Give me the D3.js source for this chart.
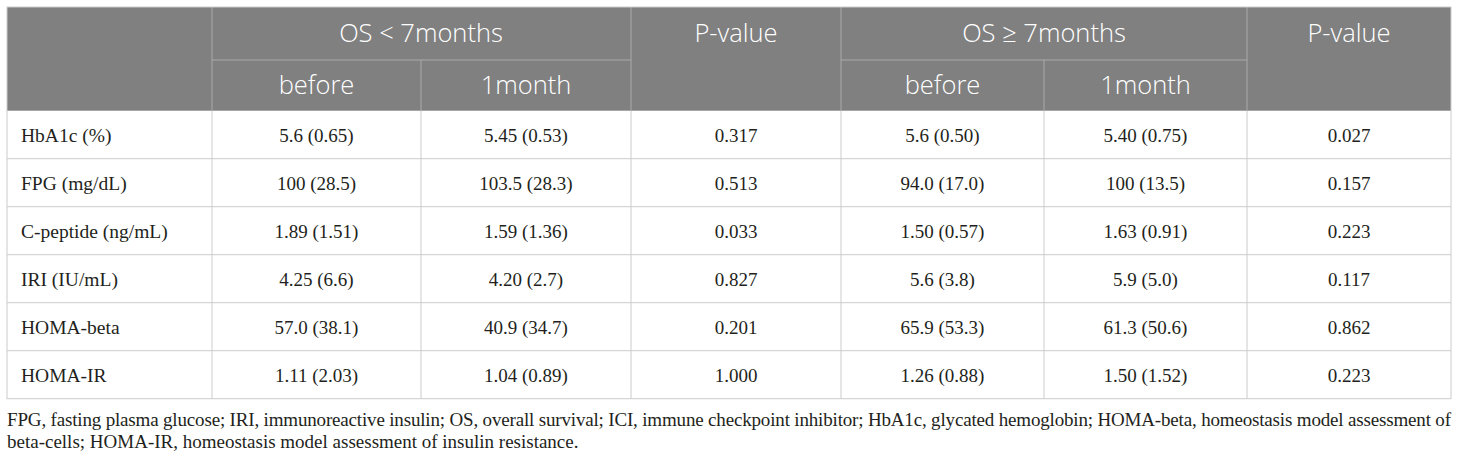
<!DOCTYPE html>
<html>
<head>
<meta charset="utf-8">
<script src="https://cdn.jsdelivr.net/npm/d3@7"></script>
<style>
  body { margin: 0; background: #fff; }
</style>
</head>
<body>
<svg id="table" width="1460" height="460"></svg>
<script>
const svg = d3.select("#table");

// table content
const groupLabels = ["OS < 7months", "OS \u2265 7months"];
const periodLabels = ["before", "1month"];
const pLabel = "P-value";
const rowLabels = ["HbA1c (%)", "FPG (mg/dL)", "C-peptide (ng/mL)", "IRI (IU/mL)", "HOMA-beta", "HOMA-IR"];
const shortBefore = ["5.6 (0.65)", "100 (28.5)", "1.89 (1.51)", "4.25 (6.6)", "57.0 (38.1)", "1.11 (2.03)"];
const shortMonth = ["5.45 (0.53)", "103.5 (28.3)", "1.59 (1.36)", "4.20 (2.7)", "40.9 (34.7)", "1.04 (0.89)"];
const shortP = ["0.317", "0.513", "0.033", "0.827", "0.201", "1.000"];
const longBefore = ["5.6 (0.50)", "94.0 (17.0)", "1.50 (0.57)", "5.6 (3.8)", "65.9 (53.3)", "1.26 (0.88)"];
const longMonth = ["5.40 (0.75)", "100 (13.5)", "1.63 (0.91)", "5.9 (5.0)", "61.3 (50.6)", "1.50 (1.52)"];
const longP = ["0.027", "0.157", "0.223", "0.117", "0.862", "0.223"];
const footnote = [
  "FPG, fasting plasma glucose; IRI, immunoreactive insulin; OS, overall survival; ICI, immune checkpoint inhibitor; HbA1c, glycated hemoglobin; HOMA-beta, homeostasis model assessment of",
  "beta-cells; HOMA-IR, homeostasis model assessment of insulin resistance."
];

const columns = ["label", "sb", "s1", "sp", "lb", "l1", "lp"];
const colWeights = [205, 209, 210, 210, 203, 203, 204];
const colValues = { sb: shortBefore, s1: shortMonth, sp: shortP, lb: longBefore, l1: longMonth, lp: longP };

const tableLeft = 7, tableRight = 1451;
const tableTop = 7, headerMid = 60, headerBottom = 110.7, bodyBottom = 398.7;

const cum = d3.cumsum([0, ...colWeights]);
const x = d3.scaleLinear().domain([0, cum[cum.length - 1]]).range([tableLeft, tableRight]);
const colLeft = c => x(cum[columns.indexOf(c)]);
const colRight = c => x(cum[columns.indexOf(c) + 1]);
const colMid = c => (colLeft(c) + colRight(c)) / 2;

const y = d3.scaleBand().domain(rowLabels).range([headerBottom, bodyBottom]);

const colors = {
  header: "#808080",
  headerLine: "#a9a9a9",
  grid: "#cccccc",
  text: "#231f20",
};

const serif = "'Liberation Serif', 'Times New Roman', serif";
const sans = "'Open Sans', 'Noto Sans', sans-serif";
const bodySize = "19px";

// header background
svg.append("rect")
  .attr("x", tableLeft).attr("y", tableTop)
  .attr("width", tableRight - tableLeft).attr("height", headerBottom - tableTop)
  .attr("fill", colors.header);

// header lines
const hLines = [
  [colLeft("sb"), colRight("s1"), headerMid],
  [colLeft("lb"), colRight("l1"), headerMid],
];
svg.selectAll(".hh").data(hLines).enter().append("line")
  .attr("x1", d => d[0]).attr("x2", d => d[1])
  .attr("y1", d => d[2]).attr("y2", d => d[2])
  .attr("stroke", colors.headerLine).attr("stroke-width", 1);

const fullCuts = ["sb", "sp", "lb", "lp"];
svg.selectAll(".hv").data(fullCuts).enter().append("line")
  .attr("x1", d => colLeft(d)).attr("x2", d => colLeft(d))
  .attr("y1", tableTop).attr("y2", headerBottom)
  .attr("stroke", colors.headerLine).attr("stroke-width", 1);
svg.selectAll(".hv2").data(["s1", "l1"]).enter().append("line")
  .attr("x1", d => colLeft(d)).attr("x2", d => colLeft(d))
  .attr("y1", headerMid).attr("y2", headerBottom)
  .attr("stroke", colors.headerLine).attr("stroke-width", 1);

// header text
const row1 = (tableTop + headerMid) / 2, row2 = (headerMid + headerBottom) / 2;
const headerTexts = [
  { t: groupLabels[0], x: colRight("sb"), y: row1 },
  { t: groupLabels[1], x: colRight("lb"), y: row1 },
  { t: pLabel, x: colMid("sp"), y: row1 },
  { t: pLabel, x: colMid("lp"), y: row1 },
  { t: periodLabels[0], x: colMid("sb"), y: row2 },
  { t: periodLabels[1], x: colMid("s1"), y: row2 },
  { t: periodLabels[0], x: colMid("lb"), y: row2 },
  { t: periodLabels[1], x: colMid("l1"), y: row2 },
];
svg.selectAll(".htext").data(headerTexts).enter().append("text")
  .attr("x", d => d.x).attr("y", d => d.y)
  .attr("dy", "0.35em")
  .attr("text-anchor", "middle")
  .style("font-family", sans)
  .style("font-weight", 300)
  .style("font-size", "25.5px")
  .attr("fill", "#fff")
  .text(d => d.t);

// body grid
svg.selectAll(".rowline").data(rowLabels.slice(1)).enter().append("line")
  .attr("x1", tableLeft).attr("x2", tableRight)
  .attr("y1", d => y(d)).attr("y2", d => y(d))
  .attr("stroke", colors.grid);
svg.selectAll(".colline").data(columns.slice(1)).enter().append("line")
  .attr("x1", d => colLeft(d)).attr("x2", d => colLeft(d))
  .attr("y1", headerBottom).attr("y2", bodyBottom)
  .attr("stroke", colors.grid);

// outer border
svg.append("rect")
  .attr("x", tableLeft).attr("y", tableTop)
  .attr("width", tableRight - tableLeft).attr("height", bodyBottom - tableTop)
  .attr("fill", "none")
  .attr("stroke", colors.grid);

// row labels
svg.selectAll(".rlabel").data(rowLabels).enter().append("text")
  .attr("x", tableLeft + 14)
  .attr("y", d => y(d) + y.bandwidth() / 2)
  .attr("dy", "0.38em")
  .style("font-family", serif)
  .style("font-size", "19.5px")
  .attr("fill", colors.text)
  .text(d => d);

// cell values
const cells = [];
columns.slice(1).forEach(c => {
  colValues[c].forEach((v, i) => cells.push({ c, r: rowLabels[i], v }));
});
svg.selectAll(".cell").data(cells).enter().append("text")
  .attr("x", d => colMid(d.c))
  .attr("y", d => y(d.r) + y.bandwidth() / 2)
  .attr("dy", "0.38em")
  .attr("text-anchor", "middle")
  .style("font-family", serif)
  .style("font-size", bodySize)
  .attr("fill", colors.text)
  .text(d => d.v);

// footnote
svg.selectAll(".foot").data(footnote).enter().append("text")
  .attr("x", tableLeft)
  .attr("y", (d, i) => 426 + i * 22)
  .attr("textLength", (d, i) => i === 0 ? tableRight - tableLeft : null)
  .attr("lengthAdjust", "spacing")
  .style("font-family", serif)
  .style("font-size", bodySize)
  .attr("fill", colors.text)
  .text(d => d);
</script>
</body>
</html>
